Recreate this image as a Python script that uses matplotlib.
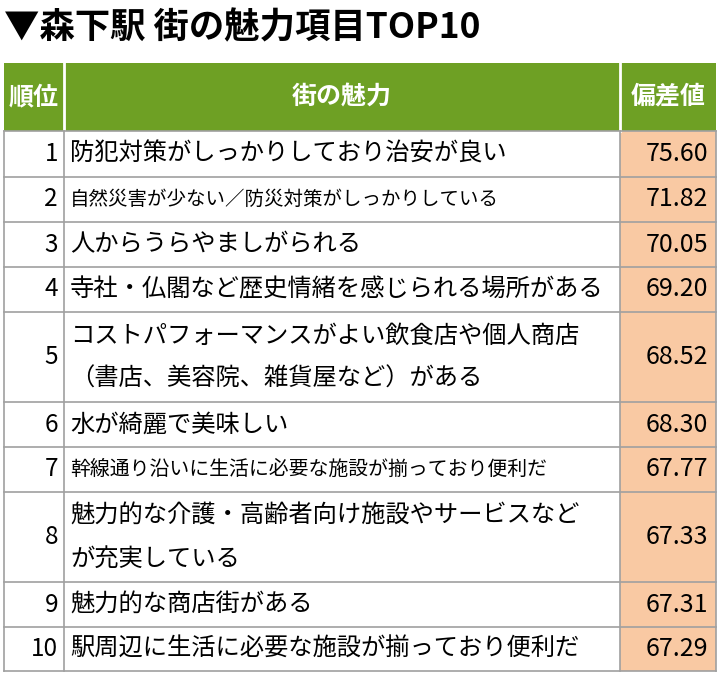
import matplotlib
matplotlib.use("Agg")
import matplotlib.pyplot as plt
from matplotlib.patches import Rectangle

plt.rcParams['font.family'] = ['Noto Sans CJK JP', 'DejaVu Sans']

title = "▼森下駅 街の魅力項目TOP10"
headers = ["順位", "街の魅力", "偏差値"]
ranks = ["1", "2", "3", "4", "5", "6", "7", "8", "9", "10"]
items = ["防犯対策がしっかりしており治安が良い",
         "自然災害が少ない／防災対策がしっかりしている",
         "人からうらやましがられる",
         "寺社・仏閣など歴史情緒を感じられる場所がある",
         "コストパフォーマンスがよい飲食店や個人商店\n（書店、美容院、雑貨屋など）がある",
         "水が綺麗で美味しい",
         "幹線通り沿いに生活に必要な施設が揃っており便利だ",
         "魅力的な介護・高齢者向け施設やサービスなど\nが充実している",
         "魅力的な商店街がある",
         "駅周辺に生活に必要な施設が揃っており便利だ"]
values = [75.60, 71.82, 70.05, 69.20, 68.52, 68.30, 67.77, 67.33, 67.31, 67.29]
font_sizes = [17.5, 14, 17.5, 17.5, 17.5, 17.5, 14.3, 17.5, 17.5, 17.5]

fig = plt.figure(figsize=(7.2, 6.74), dpi=100)
ax = fig.add_axes([0, 0, 1, 1])
ax.set_xlim(0, 720); ax.set_ylim(674, 0); ax.axis('off')

ax.text(4, 28, title, fontsize=25.5, fontweight='bold', va='center', ha='left')

xs = [4, 64, 620, 716]
green = '#6ea024'
peach = '#f9c9a3'
border = '#a0a0a0'
ax.add_patch(Rectangle((xs[0], 63), xs[3]-xs[0], 68, facecolor=green, edgecolor='none'))
for i, h in enumerate(headers):
    ax.text((xs[i]+xs[i+1])/2, 97, h, color='white', fontsize=18, fontweight='bold', ha='center', va='center')
for x in xs[1:3]:
    ax.plot([x, x], [63, 131], color='white', lw=2)

heights = [46, 45, 45, 45, 90, 45, 45, 90, 45, 44]
y = 131
for r, it, v, fs, hgt in zip(ranks, items, values, font_sizes, heights):
    ax.add_patch(Rectangle((xs[2], y), xs[3]-xs[2], hgt, facecolor=peach, edgecolor='none'))
    cy = y + hgt/2
    ax.text(xs[1]-6, cy, r, fontsize=17.5, ha='right', va='center')
    ax.text(70, cy, it, fontsize=fs, ha='left', va='center', linespacing=1.85)
    ax.text(xs[3]-8, cy, f"{v:.2f}", fontsize=18, ha='right', va='center')
    y += hgt
    ax.plot([xs[0], xs[3]], [y, y], color=border, lw=1.2)
for x in xs:
    ax.plot([x, x], [131, y], color=border, lw=1.2)
ax.plot([xs[0], xs[3]], [131, 131], color=border, lw=1.2)

fig.savefig('out.png', dpi=100)
